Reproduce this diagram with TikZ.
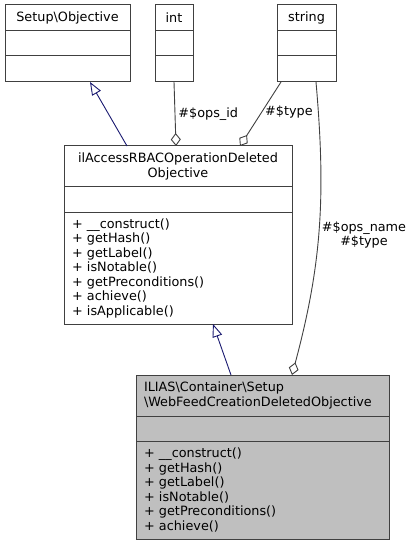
\documentclass[tikz,border=0pt]{standalone}
\usepackage{fontspec}
\setmainfont{DejaVu Sans}
\usetikzlibrary{arrows.meta,positioning}
\definecolor{edgegray}{HTML}{404040}
\definecolor{inhblue}{HTML}{191970}
\definecolor{curgray}{HTML}{BFBFBF}
\newcommand{\umlfont}{\fontsize{12.8}{14.5}\selectfont}
\tikzset{
  part/.style={draw=edgegray, line width=1pt, fill=white, outer sep=0pt,
    inner sep=0pt, font=\umlfont},
  title/.style={part, align=center, minimum height=26pt},
  lefttext/.style={part, align=left, inner xsep=8pt},
  inherit/.style={draw=inhblue, line width=0.9pt, -{Triangle[open,length=13pt,width=10pt]}},
  member/.style={draw=edgegray, line width=0.9pt, -{Diamond[open,length=13pt,width=10pt]}},
  lbl/.style={font=\umlfont, inner sep=3pt}
}
\begin{document}
\begin{tikzpicture}[x=1pt, y=-1pt]
  \useasboundingbox (0,0) rectangle (415,545);
  % top row
  \node[title, minimum width=125pt, anchor=north west] (setupT) at (5,5) {Setup\textbackslash Objective};
  \node[part, minimum width=125pt, minimum height=25pt] (setupA) [below=0pt of setupT] {};
  \node[part, minimum width=125pt, minimum height=26pt] (setupM) [below=0pt of setupA] {};
  \node[title, minimum width=38pt, anchor=north west] (intT) at (155,5) {int};
  \node[part, minimum width=38pt, minimum height=25pt] (intA) [below=0pt of intT] {};
  \node[part, minimum width=38pt, minimum height=26pt] (intM) [below=0pt of intA] {};
  \node[title, minimum width=59pt, anchor=north west] (strT) at (277,5) {string};
  \node[part, minimum width=59pt, minimum height=25pt] (strA) [below=0pt of strT] {};
  \node[part, minimum width=59pt, minimum height=26pt] (strM) [below=0pt of strA] {};
  % middle class
  \node[title, minimum width=228pt, minimum height=41pt, anchor=north west] (opT) at (64,146)
    {ilAccessRBACOperationDeleted\\Objective};
  \node[part, minimum width=228pt, minimum height=25pt] (opA) [below=0pt of opT] {};
  \node[lefttext, text width=212pt, minimum height=112pt] (opM) [below=0pt of opA]
    {+ \_\_construct()\\+ getHash()\\+ getLabel()\\+ isNotable()\\+ getPreconditions()\\+ achieve()\\+ isApplicable()};
  % bottom class
  \node[lefttext, fill=curgray, text width=237pt, minimum height=41pt, anchor=north west] (webT) at (136,375)
    {ILIAS\textbackslash Container\textbackslash Setup\\\textbackslash WebFeedCreationDeletedObjective};
  \node[part, fill=curgray, minimum width=253pt, minimum height=25pt] (webA) [below=0pt of webT] {};
  \node[lefttext, fill=curgray, text width=237pt, minimum height=98pt] (webM) [below=0pt of webA]
    {+ \_\_construct()\\+ getHash()\\+ getLabel()\\+ isNotable()\\+ getPreconditions()\\+ achieve()};

  \draw[inherit] ([xshift=63pt]opT.north west) -- ([xshift=85pt]setupM.south west);
  \draw[inherit] ([xshift=95pt]webT.north west) -- ([xshift=149pt]opM.south west);
  \draw[member] (intM.south) -- node[lbl, right] {\#\$ops\_id} ([xshift=112pt]opT.north west);
  \draw[member] ([xshift=4pt]strM.south west) -- node[lbl, right, pos=0.47] {\#\$type} ([xshift=176pt]opT.north west);
  \draw[member] ([xshift=39pt]strM.south west) to[out=-85, in=75]
    node[lbl, right, align=center, pos=0.52] {\#\$ops\_name\\\#\$type} ([xshift=156pt]webT.north west);
\end{tikzpicture}
\end{document}
